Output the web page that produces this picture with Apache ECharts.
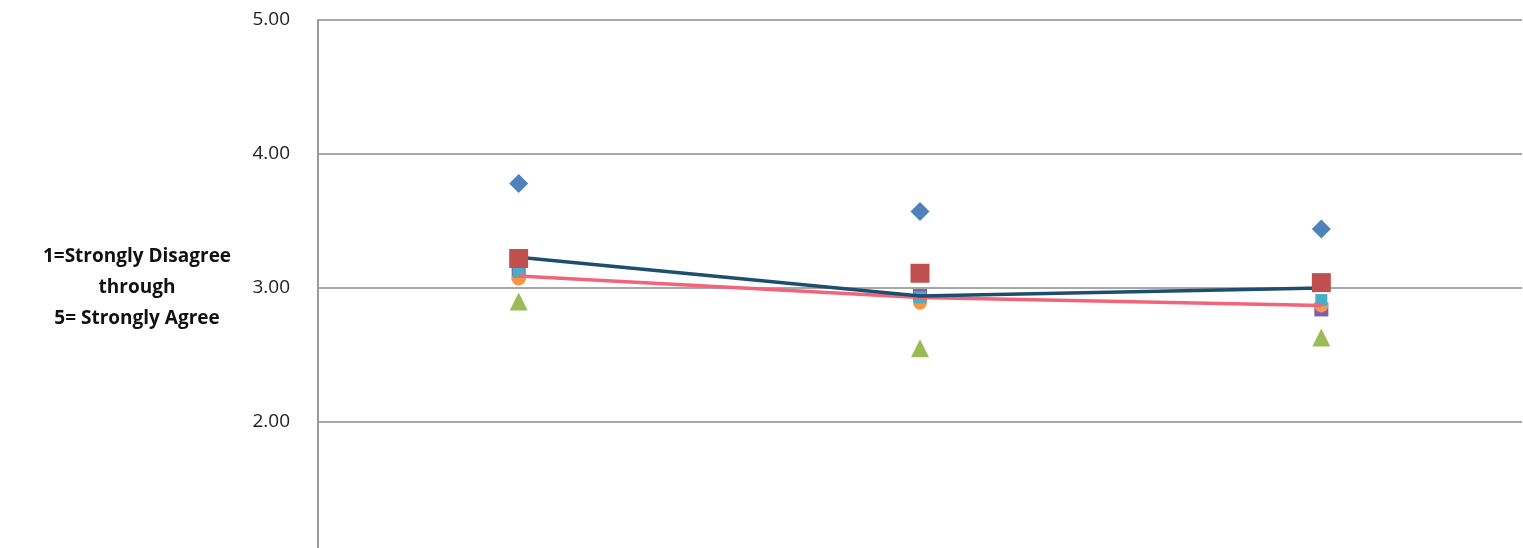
<!DOCTYPE html>
<html>
<head>
<meta charset="utf-8">
<script src="https://cdn.jsdelivr.net/npm/echarts@6/dist/echarts.min.js"></script>
<style>
  html, body { margin: 0; padding: 0; background: #fff; }
  #chart { width: 1523px; height: 548px; }
</style>
</head>
<body>
<div id="chart"></div>
<script>
// Three survey groups along the category axis
const categories = ['A', 'B', 'C'];

// Mean scores (1 = Strongly Disagree ... 5 = Strongly Agree)
const diamondScores  = [3.78, 3.57, 3.44];
const squareScores   = [3.22, 3.11, 3.04];
const triangleScores = [2.90, 2.55, 2.63];
const purpleScores   = [3.11, 2.94, 2.84];
const cyanScores     = [3.12, 2.93, 2.91];
const orangeScores   = [3.07, 2.89, 2.87];
const overallLine    = [3.23, 2.94, 3.00];
const comparisonLine = [3.09, 2.93, 2.87];

const yTicks = { min: 1, max: 5, step: 1 };

const chart = echarts.init(document.getElementById('chart'), null, { renderer: 'canvas' });

function markerSeries(name, data, symbol, size, color, z) {
  return {
    name, type: 'line', data, symbol, symbolSize: size,
    lineStyle: { width: 0, opacity: 0 },
    itemStyle: { color, borderColor: color, borderWidth: 0 },
    z, silent: true
  };
}

function lineSeries(name, data, color, z) {
  return {
    name, type: 'line', data, symbol: 'none',
    lineStyle: { width: 3.5, color },
    z, silent: true
  };
}

chart.setOption({
  animation: false,
  backgroundColor: '#ffffff',
  grid: {
    left: 318, top: 20, width: 1204, height: 536,
    containLabel: false, outerBoundsMode: 'none'
  },
  xAxis: {
    type: 'category',
    data: categories,
    boundaryGap: true,
    axisLine: { show: true, lineStyle: { color: '#9a9a9a', width: 2 } },
    axisTick: { show: false },
    axisLabel: { show: false },
    splitLine: { show: false }
  },
  yAxis: {
    type: 'value',
    min: yTicks.min,
    max: yTicks.max,
    interval: yTicks.step,
    name: '1=Strongly Disagree\nthrough\n5= Strongly Agree',
    nameLocation: 'middle',
    nameRotate: 0,
    nameGap: 181,
    nameTextStyle: {
      fontFamily: 'Open Sans', fontWeight: 'bold', fontSize: 19,
      color: '#111', align: 'center', lineHeight: 31
    },
    axisLine: { show: true, lineStyle: { color: '#9a9a9a', width: 2 } },
    axisTick: { show: false },
    axisLabel: {
      formatter: v => v.toFixed(2),
      fontFamily: 'Open Sans', fontSize: 19, color: '#222', margin: 28
    },
    splitLine: { show: true, lineStyle: { color: '#8a8a8a', width: 1.5 } }
  },
  series: [
    markerSeries('Purple', purpleScores, 'rect', 14, '#7f5fa8', 3),
    markerSeries('Orange', orangeScores, 'circle', 14, '#f79646', 3),
    markerSeries('Cyan', cyanScores, 'rect', 12, '#4bacc6', 4),
    lineSeries('Comparison', comparisonLine, '#f2647a', 5),
    lineSeries('Overall', overallLine, '#1d4e6e', 6),
    markerSeries('Square', squareScores, 'rect', 19, '#c0504d', 7),
    markerSeries('Diamond', diamondScores, 'diamond', 19, '#4f81bd', 7),
    markerSeries('Triangle', triangleScores, 'triangle', 18, '#9bbb59', 7)
  ]
});
</script>
</body>
</html>
